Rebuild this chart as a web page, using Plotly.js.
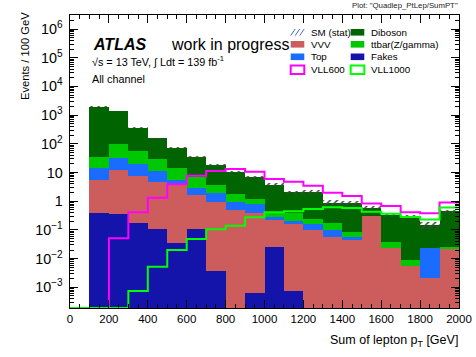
<!DOCTYPE html>
<html><head><meta charset="utf-8">
<script src="https://cdn.plot.ly/plotly-3.0.1.min.js"></script>
<style>html,body{margin:0;padding:0;background:#fff}#chart{width:476px;height:357px}</style>
</head><body><div id="chart"></div>
<script>
// ---- data (events / 100 GeV) ----
const binEdges = [0,100,200,300,400,500,600,700,800,900,1000,1100,1200,1300,1400,1500,1600,1700,1800,1900,2000];
const fakes   = [0,0.38,0.36,0.17,0.107,0.036,0.11,0.0037,0,0.00062,0.0246,0.00077,0,0,0,0,0,0,0,0];
const vvv     = [0,5.1,11.8,7.5,4.4,3.66,1.53,0.96,0.50,0.38,0.195,0.164,0.103,0.056,0.043,0.30,0.023,0.0055,0.0021,0.021];
const topq    = [0,8.5,20.6,12.1,6.8,1.9,1.16,0.92,0.43,0.42,0.07,0.045,0.052,0.044,0.013,0.003,0,0,0.021,0];
const ttbarZ  = [0,21.5,63,36,18.2,8.4,4.2,1.72,0.87,0.42,0.13,0.19,0.095,0.075,0.029,0.007,0.014,0.0037,0.001,0.005];
const diboson = [0,1915,1294,308,125,59,28.5,14.4,8.4,5.6,3.4,1.64,1.85,0.70,0.77,0.26,0.30,0.27,0.121,0.42];
const statRel = [0,0.03,0.03,0.04,0.04,0.05,0.06,0.07,0.08,0.09,0.10,0.09,0.13,0.22,0.22,0.19,0.19,0.18,0.28,0.13];
const vll600  = [0,0,0.051,0.41,1.32,3.9,7.7,11.3,13.2,10.7,5.9,4.8,3.5,1.98,1.52,0.84,0.68,0.41,0.38,0.91];
const vll1000 = [0,0,0,0.00074,0.0052,0.02,0.048,0.105,0.14,0.275,0.41,0.45,0.54,0.62,0.58,0.43,0.37,0.28,0.23,0.60];
const legendNames = ['SM (stat)','Diboson','VVV','ttbar(Z/gamma)','Top','Fakes','VLL600','VLL1000'];

// ---- layout helpers ----
const W=476,H=357,M={l:70,r:17,t:15,b:49};
const yRange=[-3.72,6.49];
const px=x=>(x-M.l)/(W-M.l-M.r);
const py=y=>(H-M.b-y)/(H-M.t-M.b);
const FONT='"Liberation Sans", Arial, Helvetica, sans-serif';

const centers = binEdges.slice(0,-1).map((e,i)=>(e+binEdges[i+1])/2);
const widths  = binEdges.slice(0,-1).map((e,i)=>binEdges[i+1]-e);

const layers = [
  {name:'Fakes', v:fakes, c:'#1414aa'},
  {name:'VVV', v:vvv, c:'#cd5c5c'},
  {name:'Top', v:topq, c:'#1a6bff'},
  {name:'ttbar(Z/gamma)', v:ttbarZ, c:'#00c800'},
  {name:'Diboson', v:diboson, c:'#006400'}
];
let cum = fakes.map(()=>0);
const stacked = layers.map(L=>{cum = cum.map((s,i)=>s+L.v[i]); return Object.assign({}, L, {top: cum.slice()});});
const traces=[];
for(let k=stacked.length-1;k>=0;k--){
  const L=stacked[k];
  traces.push({type:'bar',x:centers,y:L.top.map((t,i)=>L.v[i]>0?t:null),width:widths,
    marker:{color:L.c,line:{width:0}},name:L.name,showlegend:false,hoverinfo:'skip'});
}
const total = stacked[stacked.length-1].top;
traces.push({type:'bar',x:centers,
  base: total.map((t,i)=>t>0?t*(1-statRel[i]):null),
  y: total.map((t,i)=>t>0?2*t*statRel[i]:null),
  width:widths,name:'SM (stat)',showlegend:false,hoverinfo:'skip',
  marker:{color:'rgba(0,0,0,0)',line:{width:0},
    pattern:{shape:'/',fgcolor:'#444444',bgcolor:'rgba(0,0,0,0)',size:5,solidity:0.3}}});
const floorVal=Math.pow(10,yRange[0]);
const stepY=v=>{const a=v.map(x=>x>0?x:floorVal);a.push(a[a.length-1]);return a;};
traces.push({type:'scatter',mode:'lines',x:binEdges,y:stepY(vll600),name:'VLL600',showlegend:false,
  line:{shape:'hv',color:'#ff00ff',width:2},hoverinfo:'skip'});
traces.push({type:'scatter',mode:'lines',x:binEdges,y:stepY(vll1000),name:'VLL1000',showlegend:false,
  line:{shape:'hv',color:'#00ff00',width:2},hoverinfo:'skip'});

// ---- manual legend (two columns) ----
const legColors = {'Diboson':'#006400','VVV':'#cd5c5c','ttbar(Z/gamma)':'#00c800','Top':'#1a6bff','Fakes':'#1414aa'};
const colSw=[290.7,350.7], colTx=[309,369], rows=[32.3,44.3,56.8,69.8];
const shapes=[], annotations=[];
legendNames.forEach((n,idx)=>{
  const c=idx%2, r=Math.floor(idx/2);
  const x0=colSw[c], x1=colSw[c]+13.6, yc=rows[r];
  if(n==='SM (stat)'){
    [0,4.5,9].forEach(d=>shapes.push({type:'line',xref:'paper',yref:'paper',
      x0:px(x0+d),x1:px(x0+d+4.5),y0:py(yc+3.3),y1:py(yc-3.3),line:{color:'#4a68c8',width:1}}));
  } else if(n==='VLL600'||n==='VLL1000'){
    shapes.push({type:'rect',xref:'paper',yref:'paper',x0:px(x0),x1:px(x1),y0:py(yc+4.3),y1:py(yc-4.3),
      line:{color:n==='VLL600'?'#ff00ff':'#00ff00',width:2},fillcolor:'rgba(0,0,0,0)'});
  } else {
    shapes.push({type:'rect',xref:'paper',yref:'paper',x0:px(x0),x1:px(x1),y0:py(yc+3.3),y1:py(yc-3.3),
      line:{width:0},fillcolor:legColors[n]});
  }
  annotations.push({text:n,xref:'paper',yref:'paper',x:px(colTx[c]),y:py(yc),xanchor:'left',yanchor:'middle',
    showarrow:false,font:{family:FONT,size:9.8,color:'#000'}});
});
const txt=(t,x,y,size,opt)=>Object.assign({text:t,xref:'paper',yref:'paper',x:px(x),y:py(y),xanchor:'left',yanchor:'middle',
  showarrow:false,font:{family:FONT,size:size,color:'#000'}},opt||{});
annotations.push(txt('Plot: "Quadlep_PtLep/SumPT"',460,6,7.8,{xanchor:'right',font:{family:FONT,size:7.8,color:'#222'}}));
annotations.push(txt('<b><i>ATLAS</i></b>',91,44,16));
annotations.push(txt('work in progress',169,44.5,16));
annotations.push(txt('√s = 13 TeV, ∫ Ldt = 139 fb<sup>-1</sup>',90,61,10.8));
annotations.push(txt('All channel',90,79,10.8));
annotations.push(txt('Sum of lepton p<sub>T</sub> [GeV]',460,341,12.5,{xanchor:'right'}));
annotations.push(txt('Events / 100 GeV',25,56,11.2,{xanchor:'center',textangle:-90}));

const layout={
  width:W,height:H,margin:M,paper_bgcolor:'#fff',plot_bgcolor:'#fff',
  barmode:'overlay',bargap:0,showlegend:false,
  font:{family:FONT,size:11,color:'#000'},
  xaxis:{range:[0,2000],tick0:0,dtick:200,ticks:'inside',ticklen:8,tickwidth:1,tickcolor:'#000',
    showline:true,linecolor:'#000',linewidth:1,mirror:'ticks',showgrid:false,zeroline:false,
    tickfont:{family:FONT,size:11.5},
    minor:{dtick:50,ticks:'inside',ticklen:4,tickcolor:'#000',showgrid:false}},
  yaxis:{type:'log',range:yRange,dtick:1,exponentformat:'power',ticks:'inside',ticklen:8,tickwidth:1,tickcolor:'#000',
    showline:true,linecolor:'#000',linewidth:1,mirror:'ticks',showgrid:false,zeroline:false,
    tickfont:{family:FONT,size:11.5},ticklabelstandoff:4,
    minor:{dtick:'D1',ticks:'inside',ticklen:4,tickcolor:'#000',showgrid:false}},
  shapes:shapes,annotations:annotations
};
Plotly.newPlot('chart',traces,layout,{staticPlot:true,displayModeBar:false});
</script></body></html>
